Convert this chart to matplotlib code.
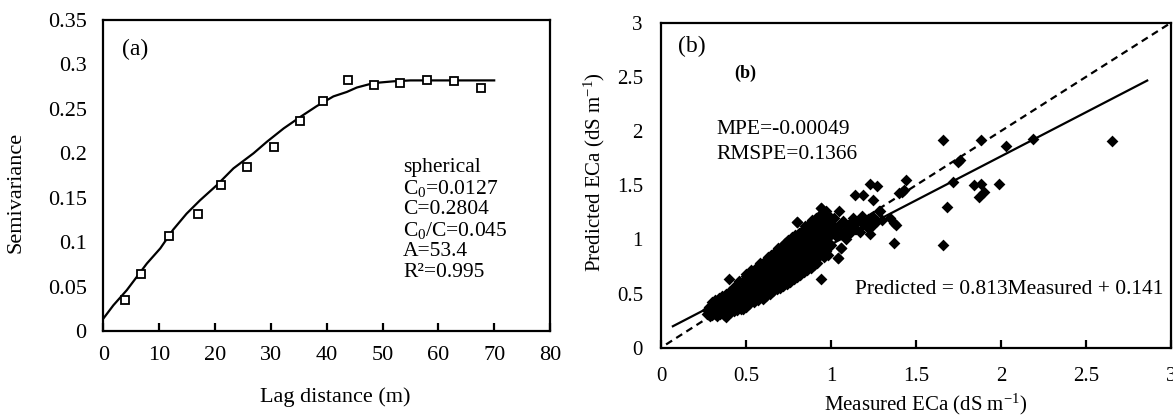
import numpy as np
import matplotlib
matplotlib.use("Agg")
import matplotlib.pyplot as plt
from matplotlib.ticker import FuncFormatter

plt.rcParams['font.family'] = ['Liberation Serif', 'DejaVu Serif']
plt.rcParams['mathtext.fontset'] = 'custom'
plt.rcParams['mathtext.rm'] = 'Liberation Serif'
plt.rcParams['mathtext.it'] = 'Liberation Serif:italic'

# (a) experimental semivariogram
lag = [3.9, 6.8, 11.8, 16.9, 21.1, 25.8, 30.5, 35.2, 39.4, 43.9, 48.5, 53.2, 58.0, 62.8, 67.6]
semivar = [0.035, 0.064, 0.107, 0.132, 0.164, 0.184, 0.207, 0.236, 0.259, 0.283, 0.277,
           0.279, 0.283, 0.281, 0.274]

# (a) fitted spherical model
fit_lag = [0, 1.8, 4.2, 7.8, 10.2, 12.5, 14.9, 17.3, 20.3, 23.3, 26.9, 29.3, 32.3, 35.3,
           38.2, 41.2, 43.6, 45.4, 48.4, 52.0, 55.0, 60.0, 65.0, 70.0]
fit_semivar = [0.014, 0.029, 0.046, 0.076, 0.093, 0.114, 0.132, 0.147, 0.164, 0.183, 0.200,
               0.213, 0.228, 0.241, 0.253, 0.264, 0.269, 0.274, 0.279, 0.281, 0.282, 0.282,
               0.282, 0.282]

model_lines = ['spherical', r'C$_{0}$=0.0127', 'C=0.2804', r'C$_{0}$/C=0.045', 'A=53.4', 'R²=0.995']

# (b) measured vs predicted ECa (dS/m)
measured_eca = [
    0.27, 0.27, 0.28, 0.28, 0.28, 0.29, 0.29, 0.29, 0.30, 0.30, 0.30, 0.30, 0.31, 0.31, 0.31,
    0.32, 0.32, 0.32, 0.32, 0.33, 0.33, 0.33, 0.33, 0.34, 0.34, 0.34, 0.34, 0.35, 0.35, 0.35, 0.35,
    0.36, 0.36, 0.36, 0.36, 0.37, 0.37, 0.37, 0.37, 0.38, 0.38, 0.38, 0.38, 0.38, 0.39, 0.39, 0.39, 0.39,
    0.40, 0.40, 0.40, 0.40, 0.40, 0.41, 0.41, 0.41, 0.41, 0.42, 0.42, 0.42, 0.42, 0.43, 0.43, 0.43, 0.43, 0.43,
    0.44, 0.44, 0.44, 0.44, 0.45, 0.45, 0.45, 0.45, 0.45, 0.46, 0.46, 0.46, 0.46, 0.47, 0.47, 0.47, 0.47, 0.47,
    0.48, 0.48, 0.48, 0.48, 0.49, 0.49, 0.49, 0.49, 0.50, 0.50, 0.50, 0.50, 0.50, 0.51, 0.51, 0.51, 0.51,
    0.52, 0.52, 0.52, 0.52, 0.53, 0.53, 0.53, 0.53, 0.54, 0.54, 0.54, 0.54, 0.55, 0.55, 0.55, 0.55,
    0.56, 0.56, 0.56, 0.56, 0.57, 0.57, 0.57, 0.57, 0.58, 0.58, 0.58, 0.58, 0.59, 0.59, 0.59, 0.59,
    0.60, 0.60, 0.60, 0.60, 0.60, 0.61, 0.61, 0.61, 0.61, 0.62, 0.62, 0.62, 0.62, 0.63, 0.63, 0.63, 0.63,
    0.64, 0.64, 0.64, 0.64, 0.65, 0.65, 0.65, 0.65, 0.66, 0.66, 0.66, 0.66, 0.67, 0.67, 0.67, 0.67,
    0.68, 0.68, 0.68, 0.68, 0.69, 0.69, 0.69, 0.69, 0.70, 0.70, 0.70, 0.70, 0.70, 0.71, 0.71, 0.71, 0.71,
    0.72, 0.72, 0.72, 0.72, 0.73, 0.73, 0.73, 0.73, 0.74, 0.74, 0.74, 0.74, 0.75, 0.75, 0.75, 0.75,
    0.76, 0.76, 0.76, 0.76, 0.77, 0.77, 0.77, 0.77, 0.78, 0.78, 0.78, 0.78, 0.79, 0.79, 0.79, 0.79,
    0.80, 0.80, 0.80, 0.80, 0.80, 0.81, 0.81, 0.81, 0.81, 0.82, 0.82, 0.82, 0.82, 0.83, 0.83, 0.83, 0.83,
    0.84, 0.84, 0.84, 0.84, 0.85, 0.85, 0.85, 0.85, 0.86, 0.86, 0.86, 0.86, 0.87, 0.87, 0.87, 0.87,
    0.88, 0.88, 0.88, 0.88, 0.89, 0.89, 0.89, 0.89, 0.90, 0.90, 0.90, 0.90, 0.91, 0.91, 0.91, 0.91,
    0.92, 0.92, 0.92, 0.92, 0.93, 0.93, 0.93, 0.93, 0.94, 0.94, 0.94, 0.94, 0.94, 0.95, 0.95, 0.95, 0.95,
    0.96, 0.96, 0.96, 0.96, 0.97, 0.97, 0.97, 0.97, 0.98, 0.98, 0.98, 0.98, 0.99, 0.99, 0.99,
    1.00, 1.00, 1.00, 1.00,
    # upper and lower edges of the cloud
    0.46, 0.50, 0.53, 0.56, 0.58, 0.61, 0.63, 0.65, 0.67, 0.69, 0.71, 0.73, 0.75, 0.77, 0.79,
    0.81, 0.83, 0.85, 0.87, 0.89, 0.91, 0.93, 0.95, 0.97, 0.99,
    0.48, 0.52, 0.55, 0.57, 0.60, 0.62, 0.64, 0.66, 0.68, 0.70, 0.72, 0.74, 0.76, 0.78, 0.80,
    0.82, 0.84, 0.86, 0.88, 0.90, 0.92, 0.96, 0.98,
    1.01, 1.02, 1.03, 1.04, 1.04, 1.05, 1.06, 1.06, 1.07, 1.08, 1.09, 1.10, 1.11, 1.12, 1.13,
    1.14, 1.15, 1.16, 1.17, 1.18, 1.19, 1.20, 1.21, 1.22, 1.23, 1.24, 1.25, 1.27, 1.28, 1.30,
    0.94, 1.00, 0.98, 1.04, 1.06, 0.80, 1.23, 1.27, 1.14, 1.19, 1.25, 1.29, 1.35, 1.38, 1.37,
    1.40, 1.37,
    1.44, 1.43, 1.42, 1.66, 1.88, 2.03, 2.19, 2.65, 1.75, 1.76, 1.72, 1.84, 1.88, 1.90, 1.87,
    1.99, 1.68, 1.66,
]
predicted_eca = [
    0.31, 0.35, 0.30, 0.34, 0.38, 0.32, 0.36, 0.29, 0.34, 0.39, 0.30, 0.42, 0.33, 0.37, 0.41,
    0.31, 0.35, 0.40, 0.44, 0.34, 0.38, 0.43, 0.29, 0.32, 0.37, 0.41, 0.46, 0.35, 0.39, 0.44, 0.31,
    0.33, 0.38, 0.42, 0.48, 0.36, 0.41, 0.45, 0.30, 0.34, 0.39, 0.44, 0.50, 0.28, 0.37, 0.42, 0.47, 0.32,
    0.35, 0.40, 0.45, 0.51, 0.63, 0.38, 0.43, 0.48, 0.33, 0.36, 0.41, 0.46, 0.53, 0.39, 0.44, 0.49, 0.34, 0.56,
    0.37, 0.42, 0.47, 0.52, 0.40, 0.45, 0.50, 0.58, 0.35, 0.38, 0.43, 0.48, 0.54, 0.41, 0.46, 0.51, 0.60, 0.36,
    0.44, 0.49, 0.55, 0.39, 0.42, 0.47, 0.52, 0.62, 0.45, 0.50, 0.56, 0.38, 0.66, 0.43, 0.48, 0.54, 0.60,
    0.46, 0.51, 0.57, 0.41, 0.49, 0.55, 0.62, 0.44, 0.47, 0.52, 0.58, 0.68, 0.50, 0.56, 0.61, 0.45,
    0.48, 0.54, 0.60, 0.66, 0.52, 0.57, 0.63, 0.46, 0.50, 0.55, 0.61, 0.70, 0.53, 0.59, 0.65, 0.48,
    0.51, 0.57, 0.63, 0.72, 0.45, 0.55, 0.61, 0.67, 0.50, 0.53, 0.59, 0.65, 0.75, 0.57, 0.63, 0.69, 0.52,
    0.55, 0.61, 0.67, 0.78, 0.59, 0.65, 0.71, 0.53, 0.57, 0.63, 0.70, 0.80, 0.61, 0.67, 0.74, 0.56,
    0.59, 0.65, 0.72, 0.84, 0.63, 0.70, 0.77, 0.58, 0.61, 0.68, 0.75, 0.86, 0.56, 0.65, 0.72, 0.79, 0.60,
    0.63, 0.70, 0.77, 0.90, 0.67, 0.74, 0.82, 0.62, 0.65, 0.72, 0.80, 0.92, 0.69, 0.77, 0.85, 0.64,
    0.67, 0.75, 0.83, 0.95, 0.71, 0.79, 0.88, 0.66, 0.69, 0.77, 0.86, 0.97, 0.73, 0.81, 0.90, 0.68,
    0.71, 0.80, 0.89, 1.00, 1.16, 0.75, 0.84, 0.93, 0.70, 0.73, 0.82, 0.91, 1.02, 0.77, 0.86, 0.95, 0.72,
    0.75, 0.84, 0.94, 1.05, 0.80, 0.89, 0.98, 0.74, 0.78, 0.87, 0.96, 1.08, 0.82, 0.91, 1.01, 0.77,
    0.80, 0.90, 0.99, 1.10, 0.85, 0.94, 1.04, 0.79, 0.83, 0.92, 1.02, 1.13, 0.87, 0.97, 1.07, 0.82,
    0.86, 0.95, 1.05, 1.16, 0.90, 1.00, 1.10, 0.85, 0.88, 0.98, 1.08, 1.29, 0.63, 0.92, 1.02, 1.12, 0.87,
    0.91, 1.01, 1.11, 1.20, 0.95, 1.05, 1.15, 0.89, 0.93, 1.03, 1.13, 1.20, 0.97, 1.07, 1.17,
    0.95, 1.05, 1.15, 1.18,
    0.62, 0.68, 0.72, 0.74, 0.78, 0.80, 0.84, 0.86, 0.88, 0.92, 0.94, 0.97, 0.99, 1.02, 1.04,
    1.06, 1.08, 1.12, 1.14, 1.18, 1.20, 1.22, 1.24, 1.26, 1.22,
    0.36, 0.40, 0.42, 0.44, 0.46, 0.48, 0.50, 0.52, 0.54, 0.55, 0.57, 0.59, 0.61, 0.63, 0.65,
    0.67, 0.70, 0.72, 0.74, 0.76, 0.78, 0.84, 0.86,
    1.08, 1.20, 1.03, 0.83, 1.12, 1.26, 1.05, 0.92, 1.17, 1.09, 1.00, 1.13, 1.06, 1.15, 1.20,
    1.10, 1.10, 1.17, 1.07, 1.22, 1.14, 1.15, 1.11, 1.19, 1.05, 1.12, 1.21, 1.17, 1.26, 1.18,
    1.29, 1.18, 1.20, 0.83, 0.92, 1.16, 1.51, 1.49, 1.41, 1.41, 1.36, 1.26, 1.20, 1.13, 0.97,
    1.43, 1.15,
    1.55, 1.46, 1.44, 1.92, 1.92, 1.86, 1.93, 1.91, 1.71, 1.73, 1.53, 1.50, 1.51, 1.44, 1.39,
    1.51, 1.30, 0.95,
]

one_to_one_x = [0.03, 3.0]
one_to_one_y = [0.03, 3.0]
reg_x = [0.07, 2.86]
reg_y = [0.198, 2.466]

fig = plt.figure(figsize=(11.73, 4.18), dpi=100)
ax1 = fig.add_axes([0.0881, 0.2081, 0.3808, 0.7441])
ax2 = fig.add_axes([0.5635, 0.1682, 0.4348, 0.7775])

fmt = FuncFormatter(lambda v, p: '%g' % v)

# ---- panel (a)
ax1.plot(fit_lag, fit_semivar, '-', color='black', lw=1.6)
ax1.plot(lag, semivar, 's', mfc='white', mec='black', mew=1.3, ms=6)
ax1.set_xlim(0, 80)
ax1.set_ylim(0, 0.35)
ax1.set_xticks(np.arange(0, 81, 10))
ax1.set_yticks(np.arange(0, 0.351, 0.05))
ax1.xaxis.set_major_formatter(fmt)
ax1.yaxis.set_major_formatter(fmt)
ax1.tick_params(axis='x', direction='in', length=6, width=1.6, pad=11, labelsize=16)
ax1.tick_params(axis='y', length=0, pad=12, labelsize=16)
ax1.set_xlabel('Lag distance (m)', fontsize=16)
ax1.set_ylabel('Semivariance', fontsize=16)
ax1.xaxis.set_label_coords(0.519, -0.18)
ax1.yaxis.set_label_coords(-0.175, 0.444)
ax1.text(3.3, 0.317, '(a)', fontsize=17, va='center')
line_y = [0.184, 0.160, 0.137, 0.113, 0.089, 0.066]
for txt, yy in zip(model_lines, line_y):
    ax1.text(53.7, yy, txt, fontsize=15.5, va='center')

# ---- panel (b)
ax2.scatter(measured_eca, predicted_eca, marker='D', s=36, color='black', lw=0, zorder=2)
ax2.plot(one_to_one_x, one_to_one_y, '--', color='black', lw=1.6, dashes=(3.2, 2.2), zorder=3)
ax2.plot(reg_x, reg_y, '-', color='black', lw=1.6, zorder=3)
ax2.set_xlim(0, 3)
ax2.set_ylim(0, 3)
ax2.set_xticks(np.arange(0, 3.01, 0.5))
ax2.set_yticks(np.arange(0, 3.01, 0.5))
ax2.xaxis.set_major_formatter(fmt)
ax2.yaxis.set_major_formatter(fmt)
ax2.tick_params(axis='x', direction='in', length=6, width=1.6, pad=14, labelsize=15)
ax2.tick_params(axis='y', length=0, pad=13, labelsize=15)
ax2.set_xlabel(r'Measured ECa (dS m$^{\mathrm{-1}}$)', fontsize=15)
ax2.set_ylabel(r'Predicted ECa (dS m$^{\mathrm{-1}}$)', fontsize=15)
ax2.xaxis.set_label_coords(0.519, -0.135)
ax2.yaxis.set_label_coords(-0.105, 0.54)
ax2.text(0.098, 2.78, '(b)', fontsize=17, va='center')
ax2.text(0.43, 2.53, '(b)', fontsize=13, fontweight='bold', va='center')
ax2.text(0.327, 2.01, 'MPE=-0.00049', fontsize=15.5, va='center')
ax2.text(0.327, 1.78, 'RMSPE=0.1366', fontsize=15.5, va='center')
ax2.text(1.14, 0.54, 'Predicted = 0.813Measured + 0.141', fontsize=15.5, va='center')

for ax in (ax1, ax2):
    for sp in ax.spines.values():
        sp.set_linewidth(1.6)

fig.savefig('out.png', dpi=100)
